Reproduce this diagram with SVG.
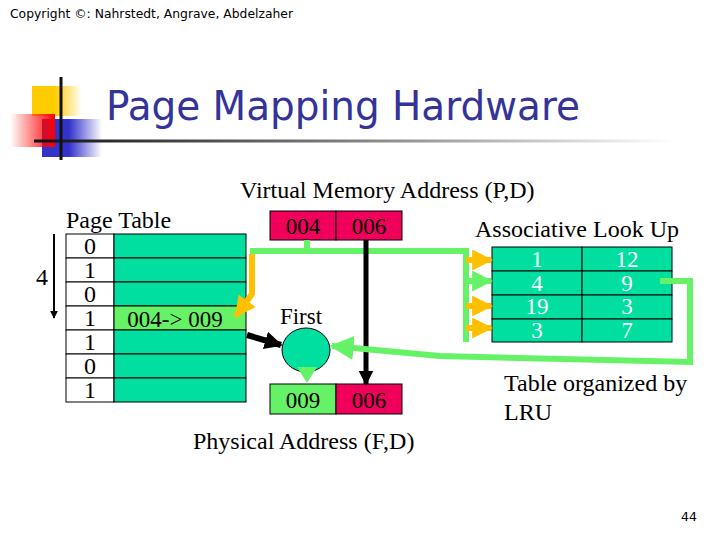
<svg xmlns="http://www.w3.org/2000/svg" width="720" height="540" viewBox="0 0 720 540">
<defs>
<style>
.t{font-family:"Liberation Serif","Times New Roman",serif;fill:#000}
.s{font-family:"DejaVu Sans","Liberation Sans",sans-serif}
.cell{stroke:#000;stroke-width:1}
.teal{fill:#00DEA0}
.lg{fill:#66F266}
.red{fill:#F0005A}
.w{fill:#fff}
.gline{fill:none;stroke:#66F266;stroke-width:6}
</style>
<linearGradient id="gy" x1="0" x2="1" y1="0" y2="0"><stop offset="0" stop-color="#FFCC00"/><stop offset="0.45" stop-color="#FFCC00"/><stop offset="1" stop-color="#FFCC00" stop-opacity="0"/></linearGradient>
<linearGradient id="gr" x1="0" x2="1" y1="0" y2="0"><stop offset="0" stop-color="#FF0000" stop-opacity="0"/><stop offset="1" stop-color="#FF0000"/></linearGradient>
<linearGradient id="gb" x1="0" x2="1" y1="0" y2="0"><stop offset="0" stop-color="#3333CC"/><stop offset="0.45" stop-color="#3333CC"/><stop offset="1" stop-color="#3333CC" stop-opacity="0"/></linearGradient>
<linearGradient id="gl" x1="0" x2="1" y1="0" y2="0"><stop offset="0" stop-color="#111"/><stop offset="0.6" stop-color="#999"/><stop offset="1" stop-color="#fff"/></linearGradient>
<marker id="ab" viewBox="0 0 10 10" refX="9" refY="5" markerWidth="4" markerHeight="4" orient="auto" markerUnits="strokeWidth"><path d="M0,0 L10,5 L0,10 z" fill="#000"/></marker>
<marker id="ab2" viewBox="0 0 10 10" refX="9" refY="5" markerWidth="3" markerHeight="3" orient="auto" markerUnits="strokeWidth"><path d="M0,0 L10,5 L0,10 z" fill="#000"/></marker>
<marker id="ay" viewBox="0 0 10 10" refX="9" refY="5" markerWidth="3.5" markerHeight="3.5" orient="auto" markerUnits="strokeWidth"><path d="M0,0 L10,5 L0,10 z" fill="#FFC000"/></marker>
<marker id="ag" viewBox="0 0 10 10" refX="9" refY="5" markerWidth="3.5" markerHeight="3.5" orient="auto" markerUnits="strokeWidth"><path d="M0,0 L10,5 L0,10 z" fill="#66F266"/></marker>
<marker id="agl" viewBox="0 0 10 10" refX="9" refY="5" markerWidth="4" markerHeight="4" orient="auto" markerUnits="strokeWidth"><path d="M0,0 L10,5 L0,10 z" fill="#66F266"/></marker>
</defs>
<rect width="720" height="540" fill="#fff"/>

<g id="header">
<text class="s" x="10" y="18" font-size="12.5" fill="#000" textLength="283" lengthAdjust="spacingAndGlyphs">Copyright ©: Nahrstedt, Angrave, Abdelzaher</text>
<rect x="32" y="86" width="50" height="30" fill="url(#gy)"/>
<rect x="42" y="119" width="60" height="38" fill="url(#gb)"/>
<rect x="10" y="114" width="45" height="33" fill="url(#gr)"/>
<rect x="34" y="139.5" width="640" height="3" fill="url(#gl)"/>
<rect x="59.5" y="77" width="3" height="83" fill="#111"/>
<text class="s" x="106" y="120" font-size="40" fill="#333399" textLength="474" lengthAdjust="spacingAndGlyphs">Page Mapping Hardware</text>
</g>

<g id="page-table">
<text class="t" x="66" y="228" font-size="24">Page Table</text>
<g font-size="24" text-anchor="middle" class="t">
<rect class="cell w" x="66" y="234" width="48" height="24"/><rect class="cell teal" x="114" y="234" width="132" height="24"/>
<rect class="cell w" x="66" y="258" width="48" height="24"/><rect class="cell teal" x="114" y="258" width="132" height="24"/>
<rect class="cell w" x="66" y="282" width="48" height="24"/><rect class="cell teal" x="114" y="282" width="132" height="24"/>
<rect class="cell w" x="66" y="306" width="48" height="24"/><rect class="cell lg" x="114" y="306" width="132" height="24"/>
<rect class="cell w" x="66" y="330" width="48" height="24"/><rect class="cell teal" x="114" y="330" width="132" height="24"/>
<rect class="cell w" x="66" y="354" width="48" height="24"/><rect class="cell teal" x="114" y="354" width="132" height="24"/>
<rect class="cell w" x="66" y="378" width="48" height="24"/><rect class="cell teal" x="114" y="378" width="132" height="24"/>
<text x="90" y="254">0</text>
<text x="90" y="278">1</text>
<text x="90" y="302">0</text>
<text x="90" y="326">1</text>
<text x="90" y="350">1</text>
<text x="90" y="374">0</text>
<text x="90" y="398">1</text>
<text x="175" y="327" font-size="23">004-&gt; 009</text>
</g>
<text class="t" x="42" y="285" font-size="24" text-anchor="middle">4</text>
<line x1="54" y1="234" x2="54" y2="318" stroke="#000" stroke-width="2" marker-end="url(#ab)"/>
</g>

<g id="virtual-address">
<text class="t" x="240" y="198" font-size="24">Virtual Memory Address (P,D)</text>
<rect class="cell red" x="270" y="211" width="66" height="29"/>
<rect class="cell red" x="336" y="211" width="66" height="29"/>
<text class="t" x="303" y="234" font-size="23" text-anchor="middle">004</text>
<text class="t" x="369" y="234" font-size="23" text-anchor="middle">006</text>
</g>

<g id="first">
<text class="t" x="301" y="324" font-size="23" text-anchor="middle">First</text>
<ellipse cx="306" cy="350" rx="24" ry="22" fill="#00DEA0" stroke="#000" stroke-width="1"/>
</g>

<g id="physical-address">
<rect class="cell lg" x="270" y="384" width="66" height="30"/>
<rect class="cell red" x="336" y="384" width="66" height="30"/>
<text class="t" x="303" y="408" font-size="23" text-anchor="middle">009</text>
<text class="t" x="369" y="408" font-size="23" text-anchor="middle">006</text>
<text class="t" x="193" y="449" font-size="24">Physical Address (F,D)</text>
</g>

<g id="associative">
<text class="t" x="475" y="237" font-size="24">Associative Look Up</text>
<rect class="cell teal" x="492" y="247" width="90" height="24"/><rect class="cell teal" x="582" y="247" width="90" height="24"/>
<rect class="cell teal" x="492" y="271" width="90" height="24"/><rect class="cell teal" x="582" y="271" width="90" height="24"/>
<rect class="cell teal" x="492" y="295" width="90" height="24"/><rect class="cell teal" x="582" y="295" width="90" height="24"/>
<rect class="cell teal" x="492" y="319" width="90" height="23"/><rect class="cell teal" x="582" y="319" width="90" height="23"/>
<g class="t" font-size="23" text-anchor="middle">
<text x="537" y="267" fill="#fff">1</text><text x="627" y="267" fill="#fff">12</text>
<text x="537" y="291" fill="#fff">4</text><text x="627" y="291" fill="#fff">9</text>
<text x="537" y="314" fill="#fff">19</text><text x="627" y="314" fill="#fff">3</text>
<text x="537" y="338" fill="#fff">3</text><text x="627" y="338" fill="#fff">7</text>
</g>
<text class="t" x="504" y="391" font-size="24">Table organized by</text>
<text class="t" x="504" y="420" font-size="24">LRU</text>
</g>

<g id="connectors">
<polyline class="gline" points="307,240 307,251 466,251 466,342"/>
<line x1="250" y1="251" x2="466" y2="251" stroke="#66F266" stroke-width="6"/>
<polyline points="252,254 252,294 236,316" fill="none" stroke="#FFC000" stroke-width="6" marker-end="url(#ay)"/>
<line x1="466" y1="260" x2="491" y2="260" stroke="#FFC000" stroke-width="6" marker-end="url(#ay)"/>
<line x1="466" y1="281" x2="491" y2="281" stroke="#66F266" stroke-width="6" marker-end="url(#ag)"/>
<line x1="466" y1="306" x2="491" y2="306" stroke="#FFC000" stroke-width="6" marker-end="url(#ay)"/>
<line x1="466" y1="328" x2="491" y2="328" stroke="#FFC000" stroke-width="6" marker-end="url(#ay)"/>
<line x1="247" y1="335" x2="281" y2="345" stroke="#000" stroke-width="6" marker-end="url(#ab2)"/>
<line x1="366" y1="240" x2="366" y2="384" stroke="#000" stroke-width="5" marker-end="url(#ab2)"/>
<polyline class="gline" points="660,281 690,281 690,362 440,356 332,346" marker-end="url(#agl)"/>
<polygon points="297,367 317,367 307,383" fill="#66F266"/>
</g>

<text class="s" x="697" y="521" font-size="12.5" text-anchor="end">44</text>
</svg>
